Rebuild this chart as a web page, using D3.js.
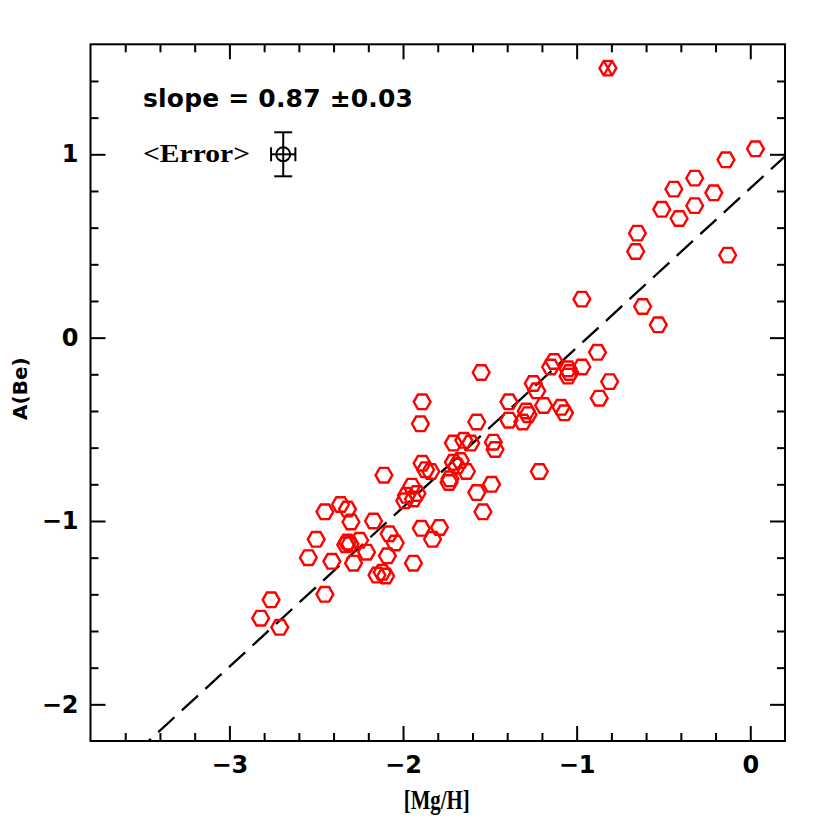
<!DOCTYPE html>
<html>
<head>
<meta charset="utf-8">
<script src="https://cdn.jsdelivr.net/npm/d3@7"></script>
<style>
  html, body { margin: 0; padding: 0; background: #fff; }
  svg { display: block; }
</style>
</head>
<body>
<svg id="chart" width="830" height="830"></svg>
<script>
// ---------------- data ----------------
const mgH = [
  0.03, -0.14, -0.32, -0.44, -0.21, -0.32, -0.51, -0.41, -0.65, -0.66,
  -0.13, -0.97, -0.62, -0.53, -0.88, -0.97, -1.05, -1.04, -1.05, -0.81,
  -0.87, -1.09, -1.07, -1.55, -1.13, -1.15, -1.25, -1.23, -1.39, -1.19,
  -1.29, -1.28, -1.39, -1.31, -1.575, -1.48, -1.47, -1.71, -1.65, -1.61,
  -1.71, -1.67, -1.69, -1.635, -1.73, -1.735, -1.215, -1.49, -1.575, -1.54,
  -1.89, -1.90, -1.89, -1.87, -1.84, -2.11, -1.95, -1.98, -1.94, -1.99,
  -1.92, -1.895, -1.79, -1.83, -2.17, -2.08, -2.045, -2.09, -1.94, -2.15,
  -2.12, -2.10, -2.45, -2.36, -2.32, -2.30, -2.50, -2.545, -2.41, -2.32,
  -2.305, -2.33, -2.25, -2.21, -2.285, -2.45, -2.76, -2.82, -2.71
];
const aBe = [
  1.03, 0.97, 0.87, 0.81, 0.79, 0.72, 0.70, 0.65, 0.57, 0.47,
  0.45, 0.21, 0.17, 0.07, -0.08, -0.16, -0.17, -0.19, -0.21, -0.24,
  -0.33, -0.38, -0.41, -0.19, -0.13, -0.16, -0.25, -0.29, -0.35, -0.37,
  -0.40, -0.42, -0.45, -0.46, -0.46, -0.57, -0.61, -0.575, -0.56, -0.575,
  -0.68, -0.67, -0.70, -0.73, -0.77, -0.79, -0.73, -0.80, -0.845, -0.95,
  -0.35, -0.47, -0.685, -0.72, -0.73, -0.75, -0.81, -0.86, -0.88, -0.89,
  -0.85, -1.04, -1.035, -1.10, -1.00, -1.07, -1.12, -1.19, -1.23, -1.295,
  -1.28, -1.30, -0.95, -0.91, -0.935, -1.005, -1.10, -1.20, -1.22, -1.115,
  -1.125, -1.13, -1.105, -1.17, -1.23, -1.40, -1.43, -1.53, -1.58
];
// rejected (crossed) star
const crossedMgH = [-0.82];
const crossedABe = [1.47];

// fit line
const fitSlope = 0.87;
const fitIntercept = 0.815;
const slopeLabel = "slope = 0.87 \u00b10.03";

// typical error symbol
const errX = -2.69, errY = 1.0, errDX = 0.07, errDY = 0.12;
const errLabel = "<Error>";

const xDomain = [-3.8, 0.2];
const yDomain = [-2.2, 1.6];
const xMajorTicks = [-3, -2, -1, 0];
const yMajorTicks = [-2, -1, 0, 1];
const xTitle = "[Mg/H]";
const yTitle = "A(Be)";

// ---------------- layout ----------------
const svg = d3.select("#chart");
const L = 90.5, R = 785, T = 44.3, B = 741;
const x = d3.scaleLinear().domain(xDomain).range([L, R]);
const y = d3.scaleLinear().domain(yDomain).range([B, T]);

const isMajor = v => Math.abs(v - Math.round(v)) < 1e-6;
const xMinor = d3.range(-3.6, 0.11, 0.2).map(v => +v.toFixed(2)).filter(v => !isMajor(v));
const yMinor = d3.range(-2.0, 1.51, 0.2).map(v => +v.toFixed(2)).filter(v => !isMajor(v));

const fmt = d => (d < 0 ? "\u2212" + Math.abs(d) : String(d));
const tickFont = "'DejaVu Sans', sans-serif";

function styleAxis(g) {
  g.select(".domain").remove();
  g.selectAll(".tick line").attr("stroke", "#000").attr("stroke-width", 2);
}

// bottom
svg.append("g").attr("transform", `translate(0,${B})`)
  .call(d3.axisBottom(x).tickValues(xMajorTicks).tickSize(-15).tickPadding(15).tickFormat(fmt))
  .call(styleAxis)
  .call(g => g.selectAll("text").attr("font-family", tickFont).attr("font-weight", "bold")
    .attr("font-size", 24).attr("fill", "#000"));
svg.append("g").attr("transform", `translate(0,${B})`)
  .call(d3.axisBottom(x).tickValues(xMinor).tickSize(-8).tickFormat(""))
  .call(styleAxis);
// top
svg.append("g").attr("transform", `translate(0,${T})`)
  .call(d3.axisTop(x).tickValues(xMajorTicks).tickSize(-15).tickFormat(""))
  .call(styleAxis);
svg.append("g").attr("transform", `translate(0,${T})`)
  .call(d3.axisTop(x).tickValues(xMinor).tickSize(-8).tickFormat(""))
  .call(styleAxis);
// left
svg.append("g").attr("transform", `translate(${L},0)`)
  .call(d3.axisLeft(y).tickValues(yMajorTicks).tickSize(-15).tickPadding(12).tickFormat(fmt))
  .call(styleAxis)
  .call(g => g.selectAll("text").attr("font-family", tickFont).attr("font-weight", "bold")
    .attr("font-size", 24).attr("fill", "#000"));
svg.append("g").attr("transform", `translate(${L},0)`)
  .call(d3.axisLeft(y).tickValues(yMinor).tickSize(-8).tickFormat(""))
  .call(styleAxis);
// right
svg.append("g").attr("transform", `translate(${R},0)`)
  .call(d3.axisRight(y).tickValues(yMajorTicks).tickSize(-15).tickFormat(""))
  .call(styleAxis);
svg.append("g").attr("transform", `translate(${R},0)`)
  .call(d3.axisRight(y).tickValues(yMinor).tickSize(-8).tickFormat(""))
  .call(styleAxis);

// frame
svg.append("rect").attr("x", L).attr("y", T).attr("width", R - L).attr("height", B - T)
  .attr("fill", "none").attr("stroke", "#000").attr("stroke-width", 2);

// axis titles
svg.append("text").attr("x", (L + R) / 2 - 1).attr("y", 809).attr("text-anchor", "middle")
  .attr("font-family", "'Liberation Serif', serif").attr("font-weight", "bold").attr("font-size", 28)
  .attr("textLength", 66).attr("lengthAdjust", "spacingAndGlyphs")
  .text(xTitle);
svg.append("text").attr("transform", `translate(27,${(T + B) / 2 - 4}) rotate(-90)`)
  .attr("text-anchor", "middle").attr("font-family", "'DejaVu Sans', sans-serif")
  .attr("font-weight", "bold").attr("font-size", 20).text(yTitle);

// clip
svg.append("clipPath").attr("id", "clip").append("rect")
  .attr("x", L).attr("y", T).attr("width", R - L).attr("height", B - T);

// fit line
const xs = [xDomain[0], xDomain[1]];
svg.append("path")
  .attr("clip-path", "url(#clip)")
  .attr("d", d3.line().x(d => x(d)).y(d => y(fitSlope * d + fitIntercept))(xs))
  .attr("fill", "none").attr("stroke", "#000").attr("stroke-width", 2.3)
  .attr("stroke-dasharray", "22,10").attr("stroke-dashoffset", 4);

// hexagon marker
const hr = 8.4;
const hexPts = d3.range(7).map(i => [hr * Math.cos(i * Math.PI / 3), hr * Math.sin(i * Math.PI / 3)]);
const hexPath = d3.line()(hexPts) + "Z";

const pts = mgH.map((v, i) => ({ x: v, y: aBe[i] }));
svg.append("g").selectAll("path").data(pts).join("path")
  .attr("transform", d => `translate(${x(d.x)},${y(d.y)})`)
  .attr("d", hexPath)
  .attr("fill", "none").attr("stroke", "#ff0000").attr("stroke-width", 2.4);

const cpts = crossedMgH.map((v, i) => ({ x: v, y: crossedABe[i] }));
const cg = svg.append("g").selectAll("g").data(cpts).join("g")
  .attr("transform", d => `translate(${x(d.x)},${y(d.y)})`);
cg.append("path").attr("d", hexPath).attr("fill", "none").attr("stroke", "#ff0000").attr("stroke-width", 2.4);
cg.append("path")
  .attr("d", `M${hexPts[2][0]},${hexPts[2][1]}L${hexPts[5][0]},${hexPts[5][1]}M${hexPts[1][0]},${hexPts[1][1]}L${hexPts[4][0]},${hexPts[4][1]}`)
  .attr("stroke", "#ff0000").attr("stroke-width", 2.2);

// annotations
svg.append("text").attr("x", 143).attr("y", 107)
  .attr("font-family", "'DejaVu Sans', sans-serif").attr("font-weight", "bold")
  .attr("font-size", 25).attr("textLength", 270).attr("lengthAdjust", "spacing")
  .text(slopeLabel);
svg.append("text").attr("x", 143).attr("y", 162)
  .attr("font-family", "'Liberation Serif', serif").attr("font-weight", "bold")
  .attr("font-size", 26).attr("textLength", 107).attr("lengthAdjust", "spacingAndGlyphs")
  .text(errLabel);

// error symbol
const eg = svg.append("g").attr("stroke", "#000").attr("stroke-width", 2).attr("fill", "none");
const ex = x(errX), ey = y(errY);
eg.append("circle").attr("cx", ex).attr("cy", ey).attr("r", 7);
eg.append("line").attr("x1", x(errX - errDX)).attr("x2", x(errX + errDX)).attr("y1", ey).attr("y2", ey);
eg.append("line").attr("x1", ex).attr("x2", ex).attr("y1", y(errY + errDY)).attr("y2", y(errY - errDY));
eg.append("line").attr("x1", x(errX - errDX)).attr("x2", x(errX - errDX)).attr("y1", ey - 7).attr("y2", ey + 7);
eg.append("line").attr("x1", x(errX + errDX)).attr("x2", x(errX + errDX)).attr("y1", ey - 7).attr("y2", ey + 7);
eg.append("line").attr("x1", ex - 9).attr("x2", ex + 9).attr("y1", y(errY + errDY)).attr("y2", y(errY + errDY));
eg.append("line").attr("x1", ex - 9).attr("x2", ex + 9).attr("y1", y(errY - errDY)).attr("y2", y(errY - errDY));
</script>
</body>
</html>
